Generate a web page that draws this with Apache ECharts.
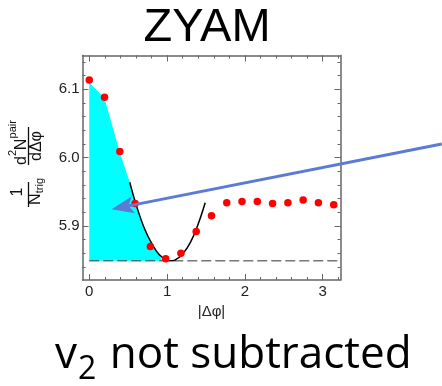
<!DOCTYPE html>
<html>
<head>
<meta charset="utf-8">
<script src="https://cdn.jsdelivr.net/npm/echarts@6/dist/echarts.min.js"></script>
<style>
html,body{margin:0;padding:0;background:#fff;}
#c{width:442px;height:386px;}
</style>
</head>
<body>
<div id="c"></div>
<script>
// ---- data ----
var phi = [0, 0.196, 0.393, 0.589, 0.785, 0.982, 1.178, 1.374, 1.571, 1.767, 1.963, 2.160, 2.356, 2.553, 2.749, 2.945, 3.142];
var pairs = [6.1136, 6.0883, 6.0088, 5.933, 5.870, 5.852, 5.860, 5.892, 5.915, 5.934, 5.936, 5.936, 5.933, 5.934, 5.938, 5.934, 5.931];
var fitX = [0.52, 0.6, 0.7, 0.8, 0.9, 1.0, 1.05, 1.1, 1.2, 1.3, 1.4, 1.49];
var fitY = [5.964, 5.932, 5.899, 5.875, 5.858, 5.850, 5.849, 5.850, 5.859, 5.876, 5.903, 5.934];
var fillX = [0, 0.196, 0.393, 0.52, 0.6, 0.7, 0.8, 0.9, 0.94];
var fillY = [6.110, 6.087, 6.008, 5.964, 5.932, 5.899, 5.875, 5.858, 5.849];
var zyam = 5.849;
var xMajor = [0, 1, 2, 3];
var xMinor = [0, 0.2, 0.4, 0.6, 0.8, 1.0, 1.2, 1.4, 1.6, 1.8, 2.0, 2.2, 2.4, 2.6, 2.8, 3.0, 3.2];
var yMajor = [5.9, 6.0, 6.1];
var yMinor = [5.82, 5.84, 5.86, 5.88, 5.9, 5.92, 5.94, 5.96, 5.98, 6.0, 6.02, 6.04, 6.06, 6.08, 6.1, 6.12, 6.14];
var arrowFrom = [4.53, 6.020];
var arrowTo = [0.288, 5.9246];
var titleText = 'ZYAM';
var xName = '|Δφ|';

// ---- chart ----
var xMin = -0.087, xMax = 3.229, yMin = 5.821, yMax = 6.1494;
var axisColor = '#666';
function zip(a, b) { return a.map(function (v, i) { return [v, b[i]]; }); }

function xAx(pos, vals, len, showLine, showLabel) {
  return {
    type: 'value', position: pos, min: xMin, max: xMax, gridIndex: 0,
    splitLine: {show: false},
    axisLine: {show: showLine, onZero: false, lineStyle: {color: axisColor, width: 1.5}},
    axisTick: {show: true, inside: true, length: len, customValues: vals, lineStyle: {color: axisColor, width: 1}},
    axisLabel: {show: showLabel, customValues: vals, margin: 4, color: '#222',
      fontFamily: 'Liberation Sans', fontSize: 15, formatter: function (v) { return String(Math.round(v)); }},
    name: showLabel ? xName : '', nameLocation: 'middle', nameGap: 17,
    nameTextStyle: {fontFamily: 'Liberation Sans', fontSize: 15, color: '#222'}
  };
}
function yAx(pos, vals, len, showLine, showLabel) {
  return {
    type: 'value', position: pos, min: yMin, max: yMax, gridIndex: 0,
    splitLine: {show: false},
    axisLine: {show: showLine, onZero: false, lineStyle: {color: axisColor, width: 1.5}},
    axisTick: {show: true, inside: true, length: len, customValues: vals, lineStyle: {color: axisColor, width: 1}},
    axisLabel: {show: showLabel, customValues: vals, margin: 3, color: '#222',
      fontFamily: 'Liberation Sans', fontSize: 15, formatter: function (v) { return v.toFixed(1); }}
  };
}

var chart = echarts.init(document.getElementById('c'), null, {renderer: 'canvas'});
chart.setOption({
  animation: false,
  backgroundColor: '#fff',
  grid: {left: 82.5, top: 55.5, width: 258, height: 224.5, containLabel: false},
  xAxis: [
    xAx('bottom', xMajor, 6, true, true),
    xAx('bottom', xMinor, 3, false, false),
    xAx('top', xMajor, 6, true, false),
    xAx('top', xMinor, 3, false, false)
  ],
  yAxis: [
    yAx('left', yMajor, 6, true, true),
    yAx('left', yMinor, 3, false, false),
    yAx('right', yMajor, 6, true, false),
    yAx('right', yMinor, 3, false, false)
  ],
  series: [
    {type: 'line', data: zip(fillX, fillY), symbol: 'none', silent: true, z: 1,
      lineStyle: {width: 0, color: '#00ffff'},
      areaStyle: {color: '#00ffff', opacity: 1, origin: zyam}},
    {type: 'line', data: [[0, zyam], [xMax, zyam]], symbol: 'none', z: 2,
      lineStyle: {color: '#333', width: 1, type: [10, 4]}},
    {type: 'line', data: zip(fitX, fitY), symbol: 'none', smooth: 0.4, z: 3,
      lineStyle: {color: '#000', width: 1.5}},
    {type: 'scatter', data: zip(phi, pairs), symbol: 'circle', symbolSize: 7.5, z: 4,
      itemStyle: {color: '#ff0000', opacity: 1}}
  ]
});

// arrow annotation
var p0 = chart.convertToPixel({gridIndex: 0}, arrowFrom);
var p1 = chart.convertToPixel({gridIndex: 0}, arrowTo);
var dx = p0[0] - p1[0], dy = p0[1] - p1[1], L = Math.sqrt(dx * dx + dy * dy);
var ux = dx / L, uy = dy / L, px = -uy, py = ux;
var headLen = 22, headW = 8.5;
var bx = p1[0] + ux * headLen, by = p1[1] + uy * headLen;
var nx = p1[0] + ux * headLen * 0.78, ny = p1[1] + uy * headLen * 0.78;
var arrowColor = '#5b7bd5';

var F = '"Liberation Sans", Arial, sans-serif';
function t(text, x, y, size, align) {
  return {type: 'text', style: {text: text, x: x, y: y, textAlign: align || 'left', textVerticalAlign: 'middle',
    font: size + 'px ' + F, fill: '#111'}};
}

chart.setOption({
  graphic: [
    {type: 'text', z: 10, style: {text: titleText, x: 207, y: 28, textAlign: 'center', textVerticalAlign: 'middle',
      font: '47px ' + F, fill: '#000'}},
    {type: 'line', z: 20, shape: {x1: p0[0], y1: p0[1], x2: nx, y2: ny},
      style: {stroke: arrowColor, lineWidth: 3}},
    {type: 'polygon', z: 20, shape: {points: [[p1[0], p1[1]], [bx + px * headW, by + py * headW], [nx, ny], [bx - px * headW, by - py * headW]]},
      style: {fill: arrowColor}},
    {type: 'group', x: 28.5, y: 207, rotation: Math.PI / 2, z: 10, children: [
      {type: 'line', shape: {x1: 0, y1: 0, x2: 25, y2: 0}, style: {stroke: '#111', lineWidth: 1.3}},
      t('1', 15, -11, 16, 'center'),
      t('N', 2, 7.4, 16),
      t('trig', 13.8, 11.3, 11),
      {type: 'line', shape: {x1: 42, y1: 0, x2: 80, y2: 0}, style: {stroke: '#111', lineWidth: 1.3}},
      t('d', 42, -7.1, 16),
      t('2', 50.9, -15.5, 11),
      t('N', 56.8, -7.1, 16),
      t('pair', 68.6, -15.5, 11),
      t('dΔφ', 61, 7.6, 16, 'center')
    ]},
    {type: 'text', z: 10, style: {
      x: 55, y: 386, textAlign: 'left', textVerticalAlign: 'bottom',
      text: '{a|v}{b|2}{a| not subtracted}',
      rich: {a: {fontFamily: 'Open Sans', fontSize: 44, fill: '#000', verticalAlign: 'bottom', padding: [0, 0, 9, 0]},
             b: {fontFamily: 'Open Sans', fontSize: 32, fill: '#000', verticalAlign: 'bottom', padding: [0, 2, 0, 1]}}}}
  ]
});
</script>
</body>
</html>
